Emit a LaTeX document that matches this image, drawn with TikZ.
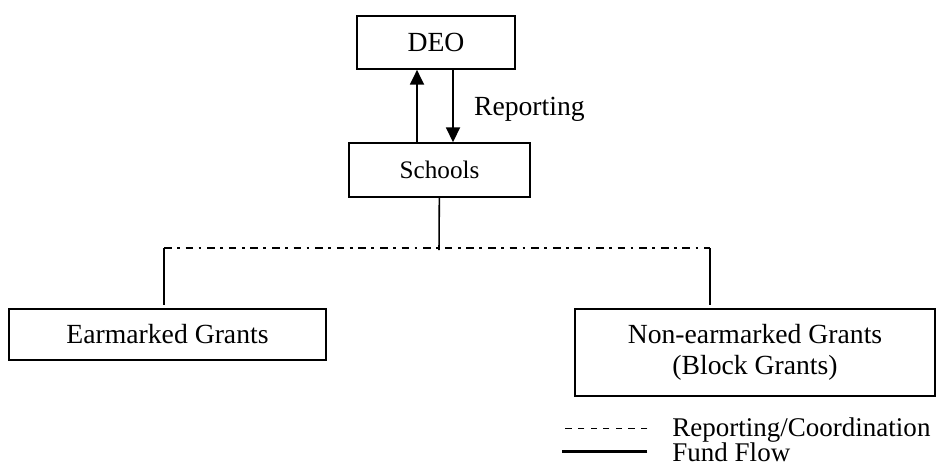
\documentclass[tikz,border=0pt]{standalone}
\usepackage{fontspec}
\setmainfont{Liberation Serif}
\usepackage{tikz}
\usetikzlibrary{arrows.meta,positioning}
\tikzset{
  org/box/.style={draw, rectangle, line width=0.7pt, inner sep=0pt, align=center,
    font=\fontsize{12.3}{14}\selectfont},
  org/fund/.style={line width=0.7pt},
  org/flow/.style={line width=0.9pt, -{Triangle[length=6.6pt, width=6.2pt]}},
  org/coord/.style={line width=0.6pt, dash pattern=on 3.4pt off 2.4pt on 1.2pt off 2.6pt},
  org/legdash/.style={line width=0.5pt, dash pattern=on 2.8pt off 2.8pt},
  org/legsolid/.style={line width=1.2pt},
  org/label/.style={inner sep=0pt, font=\fontsize{12.3}{14}\selectfont},
  org/legend/.style={org/label, font=\fontsize{12}{14}\selectfont}
}

\begin{document}
\begin{tikzpicture}[x=0.4444pt, y=-0.4444pt]
\useasboundingbox (0,0) rectangle (936,467);

\node[org/box, minimum width=70.2pt, minimum height=23.6pt] (deo) at (436,42.5) {DEO};
\node[org/box, minimum width=80.4pt, minimum height=24pt,
  font=\fontsize{11.2}{13}\selectfont] (schools) at (439.5,170) {Schools};

% up and down between DEO and schools
\coordinate (up) at (417,0);
\coordinate (down) at (453,0);
\draw[org/flow] (schools.north -| up) -- (deo.south -| up);
\draw[org/flow] (deo.south -| down) -- (schools.north -| down)
  node[org/label, midway, right=8.9pt, yshift=-1.5pt] (rep) {Reporting};

\node[org/box, minimum width=140.9pt, minimum height=22.7pt] (earm) at (167.5,334.5) {Earmarked Grants};
\node[org/box, minimum width=160pt, minimum height=38.7pt] (block) at (755,352.5)
  {Non-earmarked Grants\\(Block Grants)};

% split bar
\coordinate (bar) at (439,250);
\coordinate (lft) at (164,248);
\coordinate (rgt) at (710,248);
\draw[org/fund] (schools) -- (bar);
\draw[org/coord] (lft) -- (rgt);
\draw[org/fund, shorten >=1.3pt] (lft) -- (earm.north -| lft);
\draw[org/fund, shorten >=1.3pt] (rgt) -- (block.north -| rgt);

% legend
\node[org/legend, anchor=base west] (lgrep) at (672,436) {Reporting/Coordination};
\node[org/legend, anchor=base west] (lgfund) at (672,461) {Fund Flow};
\draw[org/legdash] ([xshift=-11pt, yshift=0.6pt]lgrep.west) -- ++(-85,0);
\draw[org/legsolid] ([xshift=-11pt]lgfund.west) -- ++(-85,0);
\end{tikzpicture}
\end{document}
